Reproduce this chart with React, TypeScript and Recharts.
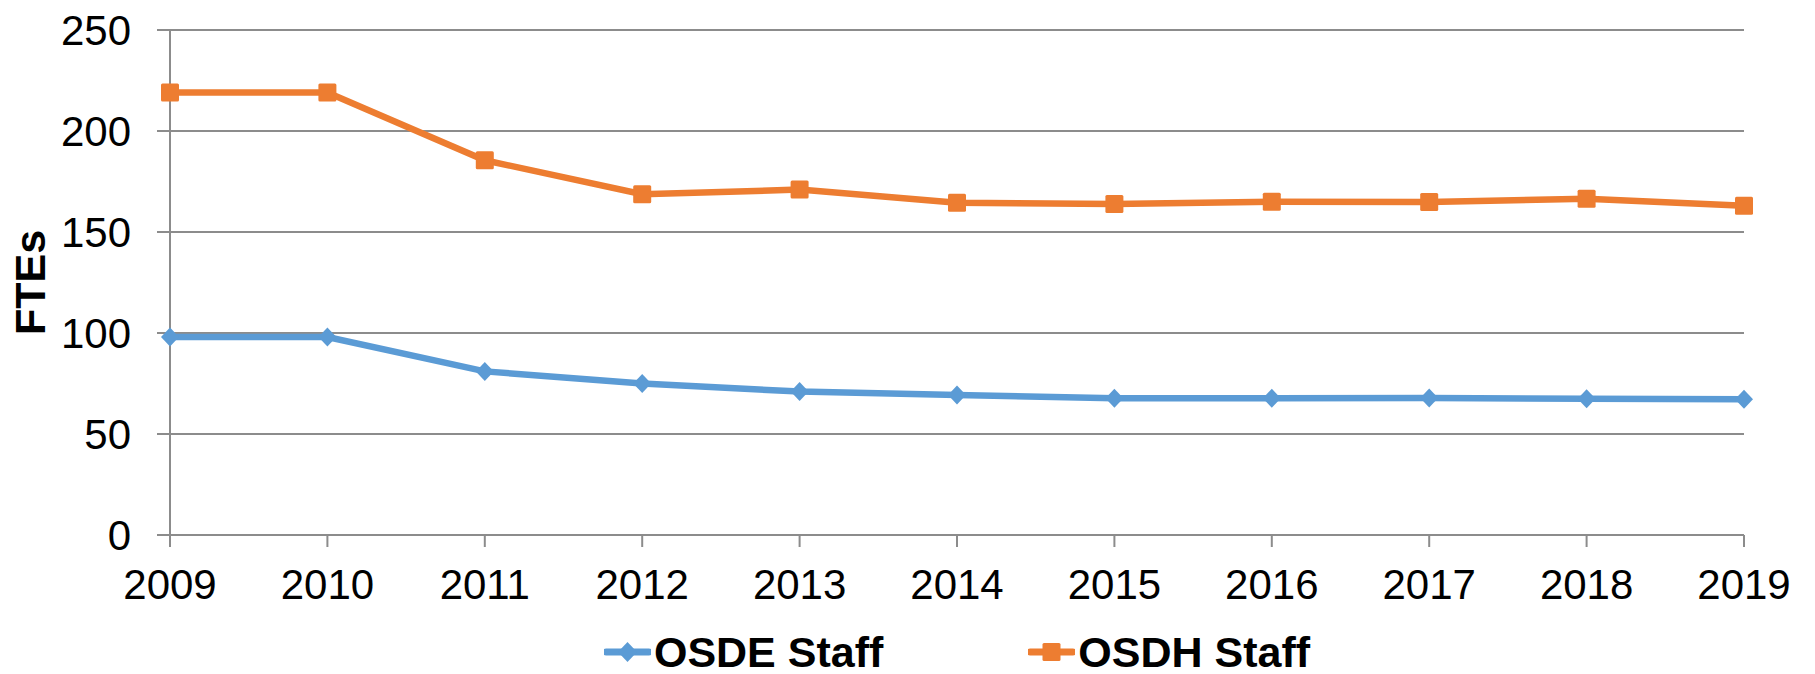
import React from 'react';
import { LineChart, Line, XAxis, YAxis, CartesianGrid, Legend } from 'recharts';

const years = ['2009', '2010', '2011', '2012', '2013', '2014', '2015', '2016', '2017', '2018', '2019'];
const osdeStaff = [98, 98, 81, 75, 71, 69.3, 67.7, 67.7, 67.8, 67.4, 67.2];
const osdhStaff = [219, 219, 185.5, 168.7, 171, 164.5, 163.8, 165, 164.9, 166.5, 163];
const yTicks = [0, 50, 100, 150, 200, 250];

const BLUE = '#5B9BD5';
const ORANGE = '#ED7D31';
const GRID = '#8c8c8c';
const FONT = '"Liberation Sans", Arial, sans-serif';

const data = years.map((y, i) => ({ year: y, osde: osdeStaff[i], osdh: osdhStaff[i] }));

const Diamond = (props: any) => {
  const { cx, cy, index } = props;
  if (cx == null || cy == null) return null;
  const rx = 9;
  const ry = 9.5;
  return <path key={`d${index}`} d={`M${cx},${cy - ry}L${cx + rx},${cy}L${cx},${cy + ry}L${cx - rx},${cy}Z`} fill={BLUE} />;
};

const Square = (props: any) => {
  const { cx, cy, index } = props;
  if (cx == null || cy == null) return null;
  const h = 9;
  return <rect key={`s${index}`} x={cx - h} y={cy - h} width={2 * h} height={2 * h} rx={1.5} fill={ORANGE} />;
};

const legendItems = [
  { name: 'OSDE Staff', color: BLUE, shape: 'diamond' },
  { name: 'OSDH Staff', color: ORANGE, shape: 'square' },
];

const LegendContent = () => (
  <div style={{ display: 'flex', justifyContent: 'center', alignItems: 'center', height: 44, gap: 145 }}>
    {legendItems.map((it) => (
      <div key={it.name} style={{ display: 'flex', alignItems: 'center' }}>
        <svg width={47} height={24} style={{ marginRight: 3 }}>
          <line x1={2} y1={12} x2={45} y2={12} stroke={it.color} strokeWidth={7} strokeLinecap="round" />
          {it.shape === 'diamond' ? (
            <path d="M23.5,2L33,12L23.5,22L14,12Z" fill={it.color} />
          ) : (
            <rect x={14.5} y={3} width={18} height={18} rx={1.5} fill={it.color} />
          )}
        </svg>
        <span style={{ fontFamily: FONT, fontWeight: 'bold', fontSize: 43, color: '#000', lineHeight: '44px', whiteSpace: 'nowrap' }}>{it.name}</span>
      </div>
    ))}
  </div>
);

const YLabel = (props: any) => {
  const vb = props.viewBox || {};
  const cy = (vb.y || 0) + (vb.height || 0) / 2;
  const x = 45;
  return (
    <text x={x} y={cy} transform={`rotate(-90, ${x}, ${cy})`} textAnchor="middle" fontFamily={FONT} fontWeight="bold" fontSize={43} fill="#000">
      FTEs
    </text>
  );
};

export default function App() {
  return (
    <div style={{ position: 'absolute', left: 0, top: 0, width: 1815, height: 674, background: '#fff' }}>
      <LineChart width={1815} height={674} data={data} margin={{ top: 30, right: 71, bottom: 0, left: 0 }}>
        <CartesianGrid vertical={false} stroke={GRID} strokeWidth={2} />
        <XAxis
          dataKey="year"
          height={95}
          tickSize={12}
          tickMargin={22}
          stroke={GRID}
          strokeWidth={2}
          tick={{ fill: '#000', fontSize: 42, fontFamily: FONT }}
          tickLine={{ stroke: GRID, strokeWidth: 2 }}
          interval={0}
        />
        <YAxis
          width={170}
          domain={[0, 250]}
          ticks={yTicks}
          tickSize={13}
          tickMargin={26}
          stroke={GRID}
          strokeWidth={2}
          tick={{ fill: '#000', fontSize: 42, fontFamily: FONT }}
          tickLine={{ stroke: GRID, strokeWidth: 2 }}
          label={<YLabel />}
        />
        <Legend
          verticalAlign="bottom"
          content={<LegendContent />}
          wrapperStyle={{ left: 170, width: 1574, height: 44 }}
        />
        <Line dataKey="osde" name="OSDE Staff" stroke={BLUE} strokeWidth={6.5} dot={<Diamond />} activeDot={false} isAnimationActive={false} />
        <Line dataKey="osdh" name="OSDH Staff" stroke={ORANGE} strokeWidth={6.5} dot={<Square />} activeDot={false} isAnimationActive={false} />
      </LineChart>
    </div>
  );
}
